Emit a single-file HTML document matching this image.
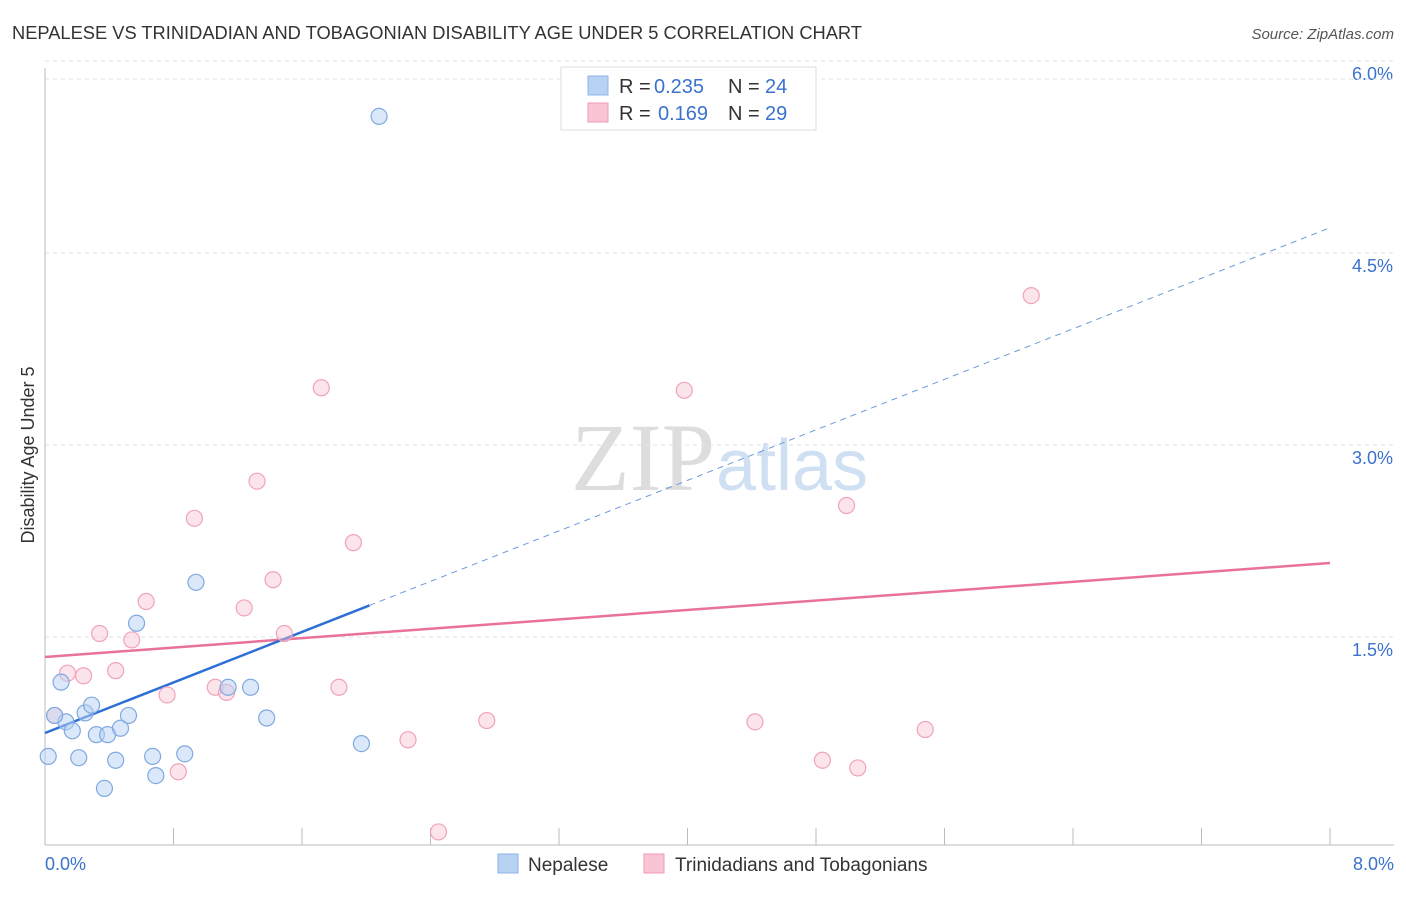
<!DOCTYPE html>
<html><head><meta charset="utf-8"><style>
body{margin:0;background:#fff;font-family:"Liberation Sans",sans-serif;}
</style></head><body>
<svg width="1406" height="892" xmlns="http://www.w3.org/2000/svg" id="chart" font-family="Liberation Sans, sans-serif">
<text x="12" y="39" font-size="18.3" fill="#333">NEPALESE VS TRINIDADIAN AND TOBAGONIAN DISABILITY AGE UNDER 5 CORRELATION CHART</text>
<text x="1394" y="39" font-size="15" fill="#555" font-style="italic" text-anchor="end">Source: ZipAtlas.com</text>
<text x="715" y="490" font-size="96" fill="#ddd" text-anchor="end" font-family="Liberation Serif, serif">ZIP</text>
<text x="716" y="490" font-size="72" fill="#cfe0f3">atlas</text>
<g id="grid"></g><g id="axes"></g><g id="lines"></g><g id="pts"></g>
<text x="34" y="455" font-size="18" fill="#333" text-anchor="middle" transform="rotate(-90 34 455)">Disability Age Under 5</text>
<g>
<rect x="561" y="67" width="255" height="63" fill="#fff" stroke="#ddd"/>
<rect x="588" y="76" width="20" height="19" fill="#b7d2f3" stroke="#8cb4e8"/>
<rect x="588" y="103" width="20" height="19" fill="#f9c4d3" stroke="#f09ab4"/>
<text x="619" y="93" font-size="20" fill="#333">R =</text>
<text x="654" y="93" font-size="20" fill="#3a72cc">0.235</text>
<text x="728" y="93" font-size="20" fill="#333">N =</text>
<text x="765" y="93" font-size="20" fill="#3a72cc">24</text>
<text x="619" y="120" font-size="20" fill="#333">R =</text>
<text x="658" y="120" font-size="20" fill="#3a72cc">0.169</text>
<text x="728" y="120" font-size="20" fill="#333">N =</text>
<text x="765" y="120" font-size="20" fill="#3a72cc">29</text>
</g>
<g>
<rect x="498" y="854" width="20" height="19" fill="#b7d2f3" stroke="#8cb4e8"/>
<text x="528" y="871" font-size="19" fill="#333">Nepalese</text>
<rect x="644" y="854" width="20" height="19" fill="#f9c4d3" stroke="#f09ab4"/>
<text x="675" y="871" font-size="19" fill="#333">Trinidadians and Tobagonians</text>
</g>
</svg>
<script>
const yTicks=[1.5,3.0,4.5,6.0];
const xLabels=["0.0%","8.0%"];
const nepX=[2.08,0.02,0.10,0.13,0.17,0.21,0.25,0.29,0.32,0.37,0.39,0.44,0.47,0.52,0.57,0.67,0.69,0.87,0.94,1.14,1.28,1.38,1.97,0.06];
const nepY=[5.70,0.70,1.28,0.97,0.90,0.69,1.04,1.10,0.87,0.45,0.87,0.67,0.92,1.02,1.74,0.70,0.55,0.72,2.06,1.24,1.24,1.00,0.80,1.02];
const triX=[0.06,0.14,0.24,0.34,0.44,0.54,0.63,0.76,0.83,0.93,1.06,1.13,1.24,1.32,1.42,1.49,1.72,1.83,1.92,2.26,2.45,2.75,3.98,4.42,4.84,4.99,5.06,5.48,6.14];
const triY=[1.02,1.35,1.33,1.66,1.37,1.61,1.91,1.18,0.58,2.56,1.24,1.20,1.86,2.85,2.08,1.66,3.58,1.24,2.37,0.83,0.11,0.98,3.56,0.97,0.67,2.66,0.61,0.91,4.30];
const nepLine=[0.883,4.83];
const triLine=[1.477,2.211];
const nepSolidEnd=2.02;
const X=v=>45+v/8*1285, Y=v=>846-v*128;
const NS="http://www.w3.org/2000/svg";
function mk(tag,attrs,parent){const e=document.createElementNS(NS,tag);for(const k in attrs)e.setAttribute(k,attrs[k]);document.getElementById(parent).appendChild(e);return e;}
yTicks.forEach(t=>{
 const l=mk('line',{x1:45,x2:1394,y1:Y(t)-17,y2:Y(t)-17,stroke:'#e2e2e2','stroke-dasharray':'4,4'},'grid');
 
 
 const tx=mk('text',{x:1393,y:Y(t)+2,'font-size':18,fill:'#3a72cc','text-anchor':'end'},'grid');
 tx.textContent=t.toFixed(1)+'%';
 
 
});
const topGrid=mk('line',{x1:45,x2:1394,y1:79,y2:79,stroke:'#e2e2e2','stroke-dasharray':'4,4'},'grid');


const xa=mk('line',{x1:45,x2:1394,y1:845,y2:845,stroke:'#bbb'},'axes');


const ya=mk('line',{x1:45,x2:45,y1:68,y2:845,stroke:'#bbb'},'axes');


for(let i=1;i<=10;i++){const t=mk('line',{x1:X(i*0.8),x2:X(i*0.8),y1:828,y2:845,stroke:'#bbb'},'axes');
 
 }
[[0,'start',45],[1,'end',1394]].forEach(([i,a,x])=>{const t=mk('text',{x:x,y:870,'font-size':18,fill:'#3a72cc','text-anchor':a},'axes');t.textContent=xLabels[i];
 
 });
const ln=v=>nepLine[0]+(nepLine[1]-nepLine[0])*v/8;
const tl=mk('line',{x1:X(0),y1:Y(triLine[0]),x2:X(8),y2:Y(triLine[1]),stroke:'#e8729a','stroke-width':2.5},'lines');


const bd=mk('line',{x1:X(nepSolidEnd),y1:Y(ln(nepSolidEnd)),x2:X(8),y2:Y(ln(8)),stroke:'#6a9ad8','stroke-width':1,'stroke-dasharray':'6,5'},'lines');


const bs=mk('line',{x1:X(0),y1:Y(ln(0)),x2:X(nepSolidEnd),y2:Y(ln(nepSolidEnd)),stroke:'#2e6fd6','stroke-width':2.5},'lines');


triX.forEach((x,i)=>{const c=mk('circle',{cx:X(x),cy:Y(triY[i]),r:8,fill:'rgba(249,196,211,0.45)',stroke:'#f0a3bb','stroke-width':1.2},'pts');
 
 });
nepX.forEach((x,i)=>{const c=mk('circle',{cx:X(x),cy:Y(nepY[i]),r:8,fill:'rgba(183,210,243,0.5)',stroke:'#7fa9e0','stroke-width':1.2},'pts');
 
 });
</script>
</body></html>
